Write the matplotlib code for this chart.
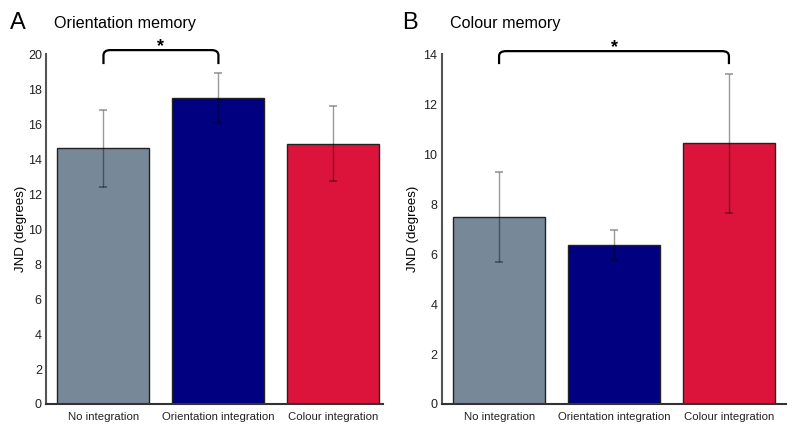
import matplotlib.pyplot as plt
from matplotlib.path import Path
from matplotlib.patches import PathPatch

plt.rcParams['font.family'] = ['Liberation Sans', 'DejaVu Sans']

conditions = ['No integration', 'Orientation integration', 'Colour integration']
colours = ['#778899', '#000080', '#DC143C']

orient_jnd = [14.61, 17.5, 14.88]
orient_err = [2.22, 1.43, 2.15]
colour_jnd = [7.49, 6.36, 10.43]
colour_err = [1.8, 0.6, 2.77]


def bracket(ax, x0, x1, y_top, y_low, r_x, r_y):
    verts = [(x0, y_low), (x0, y_top - r_y), (x0, y_top), (x0 + r_x, y_top),
             (x1 - r_x, y_top), (x1, y_top), (x1, y_top - r_y), (x1, y_low)]
    codes = [Path.MOVETO, Path.LINETO, Path.CURVE3, Path.CURVE3,
             Path.LINETO, Path.CURVE3, Path.CURVE3, Path.LINETO]
    ax.add_patch(PathPatch(Path(verts, codes), facecolor='none', edgecolor='black',
                           lw=1.6, clip_on=False))


def panel(ax, values, errors, ymax, xmax, pad):
    x = range(len(conditions))
    ax.bar(x, values, width=0.8, color=colours, edgecolor='#222222', linewidth=1.0, zorder=2)
    ax.errorbar(x, values, yerr=errors, fmt='none', ecolor=(0, 0, 0, 0.4),
                elinewidth=1.0, capsize=3, capthick=1.2, zorder=3)
    ax.set_xlim(-0.5, xmax)
    ax.set_ylim(0, ymax)
    ax.set_xticks(list(x))
    ax.set_yticks(range(0, ymax + 1, 2))
    ax.tick_params(length=0, labelsize=9, colors='#222222')
    ax.tick_params(axis='y', pad=3)
    ax.tick_params(axis='x', pad=6, labelsize=8.2)
    ax.set_xticklabels(conditions)
    ax.spines['top'].set_visible(False)
    ax.spines['right'].set_visible(False)
    ax.spines['left'].set_color('#555555')
    ax.spines['bottom'].set_color('#333333')
    ax.spines['left'].set_linewidth(1.5)
    ax.spines['bottom'].set_linewidth(1.5)
    ax.set_ylabel('JND (degrees)', fontsize=9.5, labelpad=pad)


fig = plt.figure(figsize=(8, 4.33), dpi=100)
ax1 = fig.add_axes([0.0575, 0.067, 0.421, 0.808])
ax2 = fig.add_axes([0.552, 0.067, 0.431, 0.808])

panel(ax1, orient_jnd, orient_err, 20, 2.43, 0.5)
panel(ax2, colour_jnd, colour_err, 14, 2.5, 3)

bracket(ax1, 0, 1, 20.23, 19.43, 0.06, 0.3)
ax1.text(0.5, 20.45, '*', ha='center', va='center', fontsize=13, fontweight='bold', clip_on=False)
bracket(ax2, 0, 2, 14.12, 13.6, 0.06, 0.2)
ax2.text(1.0, 14.27, '*', ha='center', va='center', fontsize=13, fontweight='bold', clip_on=False)

fig.text(0.013, 0.948, 'A', fontsize=17, va='center')
fig.text(0.067, 0.946, 'Orientation memory', fontsize=11.6, va='center')
fig.text(0.503, 0.948, 'B', fontsize=17, va='center')
fig.text(0.562, 0.946, 'Colour memory', fontsize=11.6, va='center')

fig.savefig('out.png', dpi=100)
